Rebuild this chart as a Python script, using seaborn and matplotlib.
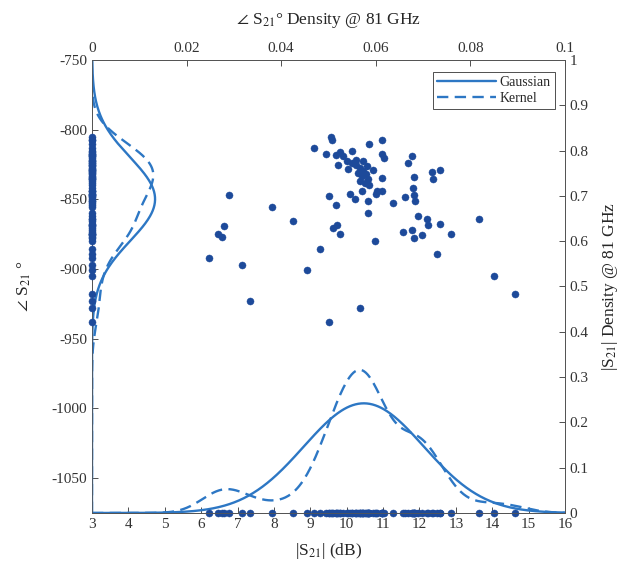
import numpy as np
import pandas as pd
import matplotlib
matplotlib.use("Agg")
import matplotlib.pyplot as plt
from matplotlib.ticker import FuncFormatter, MultipleLocator
import seaborn as sns

# |S21| (dB) and angle S21 (deg) of each measured sample at 81 GHz
s21_mag = [9.57, 9.61, 9.10, 9.43, 9.71, 9.82, 9.91, 10.16, 10.62, 10.97, 10.96, 11.03,
           9.77, 10.05, 10.00, 10.14, 10.27, 10.46, 10.57, 10.37, 10.46, 10.32, 10.41, 10.53,
           10.59, 10.37, 10.50, 10.62, 10.73, 10.27, 10.96, 10.43, 10.09, 10.23, 10.82, 10.96,
           10.81, 10.59, 11.28, 11.60, 9.52, 9.72, 10.59, 8.52, 9.63, 9.74, 9.83, 10.77,
           9.27, 8.90, 10.38, 11.79, 11.69, 11.85, 11.81, 11.86, 11.88, 12.34, 12.36, 12.56,
           11.97, 12.20, 12.24, 12.56, 11.56, 11.79, 11.86, 12.06, 12.86, 13.64, 12.47, 14.05,
           14.63, 6.77, 7.96, 6.64, 6.45, 6.58, 6.22, 7.13, 7.34, 9.52]
s21_phase = [-805.2, -807.6, -813.1, -817.4, -817.9, -816.2, -819.0, -815.5, -810.0, -807.1,
             -817.1, -820.2, -825.5, -828.1, -822.6, -823.8, -821.4, -822.6, -826.2, -827.4,
             -829.8, -830.9, -833.3, -832.1, -835.7, -836.9, -838.1, -840.0, -828.6, -825.0,
             -835.0, -844.0, -846.4, -849.5, -844.0, -844.0, -846.4, -851.2, -852.4, -848.3,
             -847.6, -853.8, -859.5, -865.7, -870.2, -868.4, -875.0, -880.0, -885.7, -900.7,
             -928.0, -818.6, -823.8, -833.8, -841.7, -847.1, -851.2, -830.2, -835.2, -828.6,
             -861.9, -864.3, -868.6, -867.4, -873.3, -871.9, -877.4, -875.2, -874.8, -863.8,
             -889.5, -905.2, -918.1, -846.9, -855.5, -869.1, -875.0, -876.9, -892.1, -896.9,
             -922.9, -938.1]

mag_lim = (3, 16)
phase_lim = (-1075, -750)
mag_density_lim = (0, 1)
phase_density_lim = (0, 0.1)

df = pd.DataFrame({"mag": s21_mag, "phase": s21_phase})

sns.set_theme(style="white")
plt.rcParams["font.family"] = ["Liberation Serif", "DejaVu Serif", "DejaVu Sans"]
plt.rcParams["mathtext.fontset"] = "stix"
plt.rcParams["xtick.direction"] = "in"
plt.rcParams["ytick.direction"] = "in"

dot_color = "#1d4a9a"
curve_color = "#2d77c4"
spine_color = "#555555"
dash = (0, (4.8, 2.7))
dot_size = 26


def kde_factor(values):
    """Bandwidth factor following a MAD-based normal-reference rule."""
    v = np.asarray(values, dtype=float)
    sig = np.median(np.abs(v - np.median(v))) / 0.6745
    bw = sig * (4.0 / (3.0 * v.size)) ** 0.2
    return bw / v.std(ddof=1)


def gauss_pdf(grid, values):
    v = np.asarray(values, dtype=float)
    mu, sd = v.mean(), v.std(ddof=1)
    return np.exp(-0.5 * ((grid - mu) / sd) ** 2) / (sd * np.sqrt(2 * np.pi))


fig = plt.figure(figsize=(6.24, 5.71), dpi=100)
ax = fig.add_axes([0.1474, 0.1016, 0.758, 0.7933])
ax_r = ax.twinx()   # |S21| density, shares the dB axis
ax_t = ax.twiny()   # angle density, shares the degree axis

# scatter of the samples
sns.scatterplot(data=df, x="mag", y="phase", ax=ax, color=dot_color, s=dot_size,
                edgecolor=dot_color, linewidth=0.3, zorder=3, legend=False)

# |S21| marginal: fitted normal, kernel estimate and the samples at zero density
mag_grid = np.linspace(*mag_lim, 500)
ax_r.plot(mag_grid, gauss_pdf(mag_grid, s21_mag), color=curve_color, lw=1.7,
          label="Gaussian")
sns.kdeplot(x=s21_mag, ax=ax_r, bw_method=kde_factor(s21_mag), clip=mag_lim, cut=60,
            gridsize=500, color=curve_color, lw=1.7, linestyle=dash, label="Kernel")
sns.scatterplot(x=s21_mag, y=np.zeros(len(s21_mag)), ax=ax_r, color=dot_color, s=dot_size,
                edgecolor=dot_color, linewidth=0.3, clip_on=False, zorder=4, legend=False)

# angle marginal, drawn sideways against the top axis
phase_grid = np.linspace(*phase_lim, 500)
ax_t.plot(gauss_pdf(phase_grid, s21_phase), phase_grid, color=curve_color, lw=1.7)
sns.kdeplot(y=s21_phase, ax=ax_t, bw_method=kde_factor(s21_phase), clip=phase_lim,
            cut=60, gridsize=500, color=curve_color, lw=1.7, linestyle=dash)
sns.scatterplot(x=np.zeros(len(s21_phase)), y=s21_phase, ax=ax_t, color=dot_color,
                s=dot_size, edgecolor=dot_color, linewidth=0.3, clip_on=False, zorder=4,
                legend=False)

for a in (ax, ax_r, ax_t):
    if a.get_legend() is not None:
        a.get_legend().remove()

ax.set_xlim(*mag_lim)
ax.set_ylim(*phase_lim)
ax_r.set_ylim(*mag_density_lim)
ax_t.set_xlim(*phase_density_lim)
ax_r.set_xlim(*mag_lim)
ax_t.set_ylim(*phase_lim)

fmt = FuncFormatter(lambda v, p: f"{v:g}")
ax.xaxis.set_major_locator(MultipleLocator(1))
ax.yaxis.set_major_locator(MultipleLocator(50))
ax_r.yaxis.set_major_locator(MultipleLocator(0.1))
ax_t.xaxis.set_major_locator(MultipleLocator(0.02))
for a in (ax, ax_r, ax_t):
    a.xaxis.set_major_formatter(fmt)
    a.yaxis.set_major_formatter(fmt)
    a.tick_params(colors="#333333", labelsize=11, length=4, width=0.6)
    for sp in a.spines.values():
        sp.set_color(spine_color)
        sp.set_linewidth(0.6)

ax.tick_params(top=False, right=False)
ax_r.tick_params(axis="y", right=True, left=False)
ax_t.tick_params(axis="x", top=True, bottom=False)

ax.set_xlabel("|S$_{21}$| (dB)", fontsize=12.5, labelpad=7)
ax.set_ylabel(r"$\angle$ S$_{21}$ °", fontsize=12.5, labelpad=13)
ax_r.set_ylabel("|S$_{21}$| Density @ 81 GHz", fontsize=12.5, labelpad=8)
ax_t.set_xlabel(r"$\angle$ S$_{21}$° Density @ 81 GHz", fontsize=12.5, labelpad=13)
ax_r.set_xlabel("")
ax_t.set_ylabel("")

handles, labels = ax_r.get_legend_handles_labels()
leg = ax_t.legend(handles, labels, loc="upper right", bbox_to_anchor=(555 / 624, 1 - 72 / 571),
                  bbox_transform=fig.transFigure, borderaxespad=0, fontsize=10,
                  handlelength=4.2, fancybox=False, framealpha=1, edgecolor="#333333",
                  borderpad=0.3, labelspacing=0.2, handletextpad=0.3)
leg.get_frame().set_linewidth(0.6)

fig.savefig("out.png", dpi=100)
